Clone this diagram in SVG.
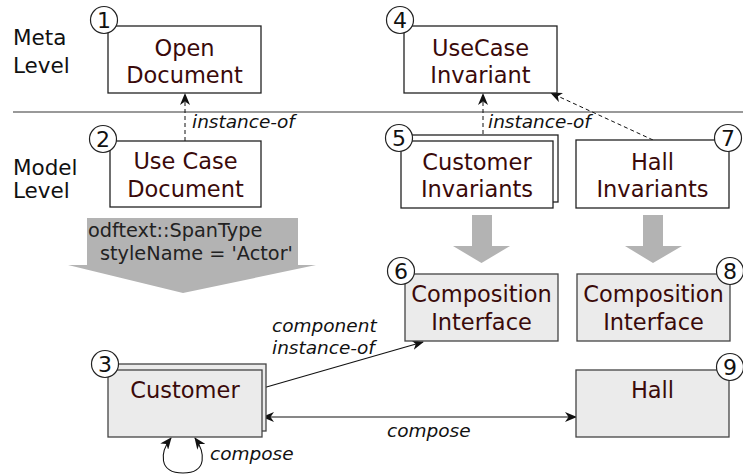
<svg xmlns="http://www.w3.org/2000/svg" width="743" height="476" viewBox="0 0 743 476">
<style>
.lvl{font-family:"DejaVu Sans",sans-serif;font-size:21.5px;fill:#111}
.nt{font-family:"DejaVu Sans",sans-serif;font-size:22.5px;fill:#3a0a0a;text-anchor:middle}
.box{fill:#fff;stroke:#222;stroke-width:1.3}
.gbox{fill:#ebebeb;stroke:#444;stroke-width:1.3}
.num circle{fill:#fff;stroke:#222;stroke-width:1.2}
.num text{font-family:"DejaVu Sans",sans-serif;font-size:22px;fill:#111;text-anchor:middle}
.lbl{font-family:"DejaVu Sans",sans-serif;font-style:italic;font-size:18.5px;fill:#111}
.dash{fill:none;stroke:#111;stroke-width:1;stroke-dasharray:4,3}
.sol{fill:none;stroke:#111;stroke-width:1.1}
.fat{fill:#b3b3b3;stroke:none}
.ft{font-family:"DejaVu Sans",sans-serif;font-size:19.3px;fill:#222}
</style>
<defs>
<marker id="ah" viewBox="0 0 12 10" refX="11" refY="5" markerWidth="12" markerHeight="10" markerUnits="userSpaceOnUse" orient="auto-start-reverse">
<path d="M0,0 L12,5 L0,10 L3.5,5 z" fill="#111"/>
</marker>
</defs>

<line x1="13" y1="112" x2="743" y2="112" stroke="#999" stroke-width="2"/>
<text class="lvl" x="13" y="45">Meta</text>
<text class="lvl" x="13" y="73">Level</text>
<text class="lvl" x="13" y="175">Model</text>
<text class="lvl" x="13" y="198">Level</text>

<g id="chevron">
<polygon class="fat" points="87,218 298,218 298,265 316,265 183,293 68,265 87,265"/>
<text class="ft" x="88" y="237">odftext::SpanType</text>
<text class="ft" x="100" y="260">styleName = 'Actor'</text>
</g>
<g id="fat5"><polygon class="fat" points="472,215 492,215 492,246 510,246 481.5,263 453,246 472,246"/></g>
<g id="fat7"><polygon class="fat" points="643,215 663,215 663,246 682,246 653,263 625,246 643,246"/></g>

<g id="connectors">
<line class="dash" x1="185" y1="141" x2="185" y2="94" marker-end="url(#ah)"/>
<text class="lbl" x="192" y="128">instance-of</text>
<line class="dash" x1="483" y1="141" x2="483" y2="94" marker-end="url(#ah)"/>
<text class="lbl" x="488" y="128">instance-of</text>
<line class="dash" x1="653" y1="140" x2="551" y2="93" marker-end="url(#ah)"/>
<line class="sol" x1="263" y1="388" x2="423" y2="342" marker-end="url(#ah)"/>
<text class="lbl" x="272" y="332">component</text>
<text class="lbl" x="272" y="354">instance-of</text>
<line class="sol" x1="263" y1="417" x2="576" y2="417" marker-start="url(#ah)" marker-end="url(#ah)"/>
<text class="lbl" x="387" y="437">compose</text>
<path class="sol" d="M171,438 C160,452 158,473 183,473 C208,473 205,452 195,438" marker-start="url(#ah)" marker-end="url(#ah)"/>
<text class="lbl" x="210" y="460">compose</text>
</g>

<g id="n1">
<rect class="box" x="108" y="26" width="153" height="67"/>
<text class="nt" x="184.5" y="56">Open</text>
<text class="nt" x="184.5" y="83">Document</text>
<g class="num"><circle cx="104" cy="20" r="13.5"/><text x="104" y="28">1</text></g>
</g>
<g id="n2">
<rect class="box" x="110" y="141" width="151" height="66"/>
<text class="nt" x="185.5" y="169">Use Case</text>
<text class="nt" x="185.5" y="197">Document</text>
<g class="num"><circle cx="103" cy="139" r="13.5"/><text x="103" y="147">2</text></g>
</g>
<g id="n3">
<rect class="gbox" x="112" y="364" width="154" height="67"/>
<rect class="gbox" x="108" y="370" width="154" height="67"/>
<text class="nt" x="185" y="398">Customer</text>
<g class="num"><circle cx="105" cy="364" r="13.5"/><text x="105" y="372">3</text></g>
</g>
<g id="n4">
<rect class="box" x="404" y="26" width="153" height="67"/>
<text class="nt" x="480.5" y="56">UseCase</text>
<text class="nt" x="480.5" y="83">Invariant</text>
<g class="num"><circle cx="400" cy="20" r="13.5"/><text x="400" y="28">4</text></g>
</g>
<g id="n5">
<rect class="box" x="405" y="135" width="153" height="67"/>
<rect class="box" x="401" y="141" width="152" height="67"/>
<text class="nt" x="477" y="170">Customer</text>
<text class="nt" x="477" y="197">Invariants</text>
<g class="num"><circle cx="399" cy="138" r="13.5"/><text x="399" y="146">5</text></g>
</g>
<g id="n6">
<rect class="gbox" x="405" y="274" width="153" height="67"/>
<text class="nt" x="481.5" y="302">Composition</text>
<text class="nt" x="481.5" y="330">Interface</text>
<g class="num"><circle cx="401" cy="271" r="13.5"/><text x="401" y="279">6</text></g>
</g>
<g id="n7">
<rect class="box" x="576" y="140" width="153" height="68"/>
<text class="nt" x="652.5" y="170">Hall</text>
<text class="nt" x="652.5" y="197">Invariants</text>
<g class="num"><circle cx="728" cy="138" r="13.5"/><text x="728" y="146">7</text></g>
</g>
<g id="n8">
<rect class="gbox" x="577" y="274" width="153" height="67"/>
<text class="nt" x="653.5" y="302">Composition</text>
<text class="nt" x="653.5" y="330">Interface</text>
<g class="num"><circle cx="730" cy="271" r="13.5"/><text x="730" y="279">8</text></g>
</g>
<g id="n9">
<rect class="gbox" x="576" y="370" width="153" height="67"/>
<text class="nt" x="652.5" y="398">Hall</text>
<g class="num"><circle cx="730" cy="367" r="13.5"/><text x="730" y="375">9</text></g>
</g>
</svg>
